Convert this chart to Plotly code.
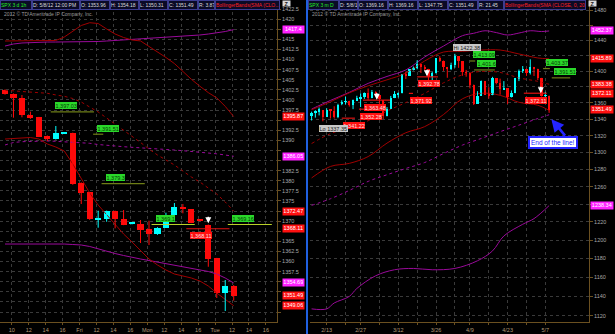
import math
import plotly.graph_objects as go

W, H = 615, 334

# ---------------- Left panel: SPX 3 day / 1 hour ----------------
L_OPEN = [1402.45, 1401.5, 1400.55, 1396.34, 1395.7, 1391.07, 1390.25, 1391.8, 1391.88, 1379.51,
          1377.13, 1370.5, 1370.45, 1372.5, 1370.45, 1369.3, 1369.3, 1368.05, 1366.73, 1368.37,
          1371.51, 1373.42, 1372.92, 1370.1, 1369.16, 1360.79, 1352.13, 1353.96]
L_HIGH = [1402.6, 1401.6, 1401.2, 1397.1, 1395.8, 1391.2, 1393.54, 1391.9, 1391.9, 1379.6,
          1377.2, 1372.58, 1372.6, 1372.6, 1372.75, 1369.5, 1370.27, 1370.1, 1368.5, 1372.08,
          1374.48, 1374.23, 1373.0, 1370.2, 1369.16, 1360.9, 1355.42, 1354.18]
L_LOW = [1401.3, 1395.6, 1395.7, 1395.3, 1390.8, 1389.83, 1390.2, 1391.7, 1379.0, 1374.23,
         1370.3, 1368.37, 1369.85, 1368.2, 1369.0, 1369.2, 1364.58, 1364.09, 1366.6, 1368.3,
         1371.4, 1371.93, 1369.5, 1369.9, 1358.7, 1350.97, 1347.75, 1350.31]
L_CLOSE = [1401.46, 1400.4, 1396.26, 1395.6, 1390.9, 1390.32, 1391.74, 1391.85, 1379.11, 1377.03,
           1370.45, 1370.6, 1372.5, 1370.45, 1369.11, 1369.4, 1367.8, 1366.73, 1368.37, 1370.7,
           1373.42, 1372.92, 1369.61, 1370.03, 1360.6, 1352.13, 1354.01, 1351.49]

L_RED_UP = [1414.58, 1414.58, 1414.58, 1414.58, 1414.58, 1414.58, 1414.71, 1415.57, 1417.06, 1418.42,
            1419.11, 1418.91, 1417.55, 1416.31, 1415.45, 1414.83, 1414.6, 1413.3, 1411.9, 1410.5,
            1409.0, 1407.0, 1405.1, 1403.4, 1401.8, 1400.5, 1398.4, 1395.87]
L_RED_MID = [1402.38, 1402.21, 1402.08, 1401.96, 1401.83, 1401.64, 1401.22, 1400.89, 1400.35, 1399.48,
             1398.24, 1397.01, 1395.52, 1394.04, 1392.55, 1390.94, 1389.46, 1387.85, 1386.36, 1385.13,
             1383.89, 1382.40, 1380.92, 1379.68, 1378.20, 1376.71, 1374.73, 1372.47]
L_RED_LOW = [1390.32, 1390.45, 1390.57, 1390.70, 1390.32, 1389.09, 1388.34, 1387.35, 1384.14, 1380.42,
             1376.96, 1373.99, 1371.51, 1369.04, 1366.81, 1364.83, 1362.85, 1360.62, 1359.14, 1357.90,
             1356.91, 1356.41, 1355.92, 1355.18, 1353.94, 1352.21, 1350.72, 1349.06]
L_MAG_UP = [1413.34, 1413.84, 1414.09, 1414.21, 1414.33, 1414.33, 1414.33, 1414.33, 1414.33, 1414.33,
            1414.33, 1414.46, 1414.58, 1414.71, 1414.83, 1414.95, 1415.08, 1415.20, 1415.32, 1415.45,
            1415.57, 1415.70, 1415.82, 1416.07, 1416.31, 1416.56, 1416.93, 1417.4]
L_MAG_MID = [1388.84, 1389.46, 1389.66, 1389.75, 1389.83, 1389.83, 1389.75, 1389.66, 1389.58, 1389.46,
             1389.26, 1388.96, 1388.72, 1388.59, 1388.42, 1388.27, 1388.17, 1388.02, 1387.92, 1387.77,
             1387.60, 1387.43, 1387.28, 1387.11, 1386.91, 1386.66, 1386.36, 1386.05]
L_MAG_LOW = [1364.33, 1364.33, 1364.46, 1364.51, 1364.51, 1364.51, 1364.46, 1364.33, 1364.21, 1364.09,
             1363.72, 1363.10, 1362.48, 1361.98, 1361.49, 1360.99, 1360.62, 1360.25, 1359.88, 1359.51,
             1359.14, 1358.76, 1358.39, 1358.02, 1357.53, 1356.91, 1355.92, 1354.69]

L_TICK_TEXT = ["10", "12", "14", "16", "Fri", "12", "14", "16", "Mon", "12", "14", "16", "Tue", "12", "14", "16"]

# green level lines: text, price, first bar, last bar, line colour key
L_GREEN = [("1,397.03", 1397.03, 5.4, 10.5, "olive"),
           ("1,391.51", 1391.51, 10.4, 11.6, "olive"),
           ("1,379.3", 1379.3, 11.4, 16.5, "olive"),
           ("1,369.1", 1369.16, 17.3, 22.4, "lime"),
           ("1,369.16", 1369.16, 26.3, 31.5, "lime")]
L_RED_LEVELS = [("1,368.11", 1368.11, 21.4, 26.5)]
L_AXIS_TAGS = [(1417.4, "mag"), (1395.87, "red"), (1386.05, "mag"), (1372.47, "red"),
               (1368.11, "red"), (1354.69, "mag"), (1351.49, "red"), (1349.06, "red")]

# ---------------- Right panel: SPX 3 month / daily ----------------
R_DATES = ["2/7", "2/8", "2/9", "2/10", "2/13", "2/14", "2/15", "2/16", "2/17", "2/21", "2/22", "2/23", "2/24",
           "2/27", "2/28", "2/29",
           "3/1", "3/2", "3/5", "3/6", "3/7", "3/8", "3/9", "3/12", "3/13", "3/14", "3/15", "3/16", "3/19", "3/20",
           "3/21", "3/22", "3/23", "3/26", "3/27", "3/28", "3/29", "3/30",
           "4/2", "4/3", "4/4", "4/5", "4/9", "4/10", "4/11", "4/12", "4/13", "4/16", "4/17", "4/18", "4/19", "4/20",
           "4/23", "4/24", "4/25", "4/26", "4/27", "4/30",
           "5/1", "5/2", "5/3", "5/4", "5/7", "5/8"]
R_OPEN = [1344.3, 1347.0, 1350.0, 1351.2, 1343.1, 1351.3, 1350.5, 1342.6, 1358.1, 1361.2, 1362.1, 1357.5, 1363.5,
          1365.2, 1367.6, 1372.2,
          1365.9, 1374.1, 1369.6, 1363.6, 1343.4, 1352.7, 1366.0, 1370.8, 1371.9, 1395.9, 1394.2, 1402.6, 1404.2,
          1409.6, 1405.5, 1403.0, 1392.8, 1397.1, 1416.6, 1412.5, 1405.4, 1403.3,
          1408.5, 1419.0, 1413.1, 1398.8, 1397.5, 1382.2, 1359.0, 1368.8, 1387.6, 1370.3, 1369.6, 1390.8, 1385.1,
          1377.0, 1378.5, 1367.0, 1372.1, 1390.6, 1400.2, 1403.3,
          1397.9, 1405.5, 1402.3, 1391.5, 1368.8, 1369.16]
R_HIGH = [1349.2, 1351.0, 1354.3, 1351.2, 1353.4, 1351.3, 1355.9, 1359.0, 1363.4, 1367.8, 1362.7, 1364.2, 1368.9,
          1371.9, 1373.1, 1378.0,
          1376.2, 1374.5, 1369.6, 1363.6, 1354.9, 1368.7, 1374.8, 1373.0, 1396.1, 1399.4, 1402.6, 1405.9, 1414.0,
          1409.6, 1407.8, 1403.0, 1399.2, 1416.6, 1419.2, 1413.7, 1405.4, 1410.9,
          1422.38, 1419.0, 1413.1, 1401.6, 1397.5, 1383.0, 1374.7, 1388.1, 1387.6, 1379.7, 1392.8, 1390.8, 1390.5,
          1387.4, 1378.5, 1375.6, 1391.4, 1402.1, 1406.6, 1403.3,
          1415.3, 1405.5, 1403.1, 1391.5, 1373.9, 1369.16]
R_LOW = [1338.4, 1341.9, 1344.6, 1337.35, 1343.1, 1340.8, 1340.8, 1341.2, 1357.2, 1358.1, 1355.5, 1352.3, 1363.5,
         1354.9, 1365.0, 1363.8,
         1365.9, 1368.4, 1359.1, 1340.0, 1343.4, 1352.7, 1366.0, 1366.7, 1371.9, 1390.0, 1394.2, 1401.0, 1402.4,
         1397.7, 1400.6, 1388.7, 1386.9, 1397.1, 1411.9, 1400.5, 1391.6, 1401.4,
         1404.5, 1404.3, 1394.1, 1392.9, 1378.2, 1357.4, 1359.0, 1368.8, 1369.9, 1365.4, 1369.6, 1383.3, 1370.3,
         1377.0, 1358.8, 1366.8, 1372.1, 1387.4, 1397.7, 1394.0,
         1395.7, 1393.9, 1388.7, 1367.96, 1363.9, 1347.75]
R_CLOSE = [1347.1, 1350.0, 1351.9, 1342.6, 1351.8, 1350.5, 1343.2, 1358.0, 1361.2, 1362.2, 1357.7, 1363.5, 1365.7,
           1367.6, 1372.2, 1365.7,
           1374.1, 1369.6, 1364.3, 1343.4, 1352.6, 1365.9, 1370.9, 1371.1, 1396.0, 1394.3, 1402.6, 1404.2, 1409.8,
           1405.5, 1402.9, 1392.8, 1397.1, 1416.5, 1412.5, 1405.5, 1403.3, 1408.5,
           1419.0, 1413.4, 1399.0, 1398.1, 1382.2, 1358.6, 1368.7, 1387.6, 1370.3, 1369.6, 1390.8, 1385.1, 1376.9,
           1378.5, 1366.9, 1372.0, 1390.7, 1400.0, 1403.4, 1397.9,
           1405.8, 1402.3, 1391.6, 1369.1, 1369.6, 1351.49]

R_BAND_DATES = ["2/7", "2/14", "2/22", "2/29", "3/7", "3/14", "3/21", "3/28", "4/4", "4/12", "4/19", "4/26", "5/3", "5/8"]
R_RED_UP = [1351.6, 1361.4, 1372.6, 1381.4, 1389.0, 1397.5, 1413.1, 1424.7, 1425.5, 1427.3, 1427.3, 1422.2, 1417.0, 1415.89]
R_RED_MID = [1310.5, 1322.4, 1329.6, 1338.1, 1350.0, 1360.5, 1372.0, 1385.2, 1395.3, 1399.7, 1398.4, 1391.5, 1387.1, 1383.38]
R_RED_LOW = [1270.0, 1283.4, 1287.0, 1295.0, 1311.0, 1323.5, 1330.9, 1345.7, 1365.1, 1372.1, 1369.5, 1360.8, 1357.2, 1350.87]
R_MAG_MID = [1238.6, 1246.1, 1255.6, 1266.0, 1273.7, 1281.0, 1288.0, 1298.6, 1308.6, 1316.6, 1324.8, 1332.7, 1340.8, 1345.4]
R_MAG_UP_DATES = ["2/7", "2/14", "2/22", "2/29", "3/7", "3/14", "3/21", "3/28", "4/4", "4/10", "4/13", "4/18",
                  "4/23", "4/26", "5/1", "5/4", "5/8"]
R_MAG_UP = [1352.4, 1363.1, 1373.2, 1384.5, 1393.3, 1401.6, 1418.3, 1432.5, 1446.1, 1449.3, 1452.6, 1450.2,
            1447.0, 1449.6, 1452.6, 1451.6, 1452.37]
R_MAG_LOW_DATES = ["2/7", "2/13", "2/15", "2/22", "2/24", "3/2", "3/9", "3/16", "3/23", "4/2", "4/11", "4/17",
                   "4/20", "4/27", "5/2", "5/8"]
R_MAG_LOW = [1126.9, 1126.9, 1133.0, 1139.8, 1148.1, 1161.5, 1167.9, 1169.3, 1167.9, 1169.3, 1177.5, 1188.2,
             1204.5, 1217.4, 1223.7, 1238.34]

R_TICK_DATES = ["2/13", "2/21", "2/27", "3/5", "3/12", "3/19", "3/26", "4/2", "4/9", "4/16", "4/23", "4/30", "5/7"]
R_TICK_LABELED = ["2/13", "2/27", "3/12", "3/26", "4/9", "4/23", "5/7"]

R_GREEN = [("1,413.09", 1413.09, 42.0, 43.4), ("1,401.6", 1401.6, 43.1, 48.6),
           ("1,403.37", 1403.37, 61.4, 63.2), ("1,391.51", 1391.51, 63.7, 68.6)]
R_RED_LEVELS = [("1,392.78", 1392.78, 28.0, 33.5), ("1,371.92", 1371.92, 25.8, 26.9),
                ("1,363.48", 1363.48, 13.6, 20.8), ("1,352.28", 1352.28, 12.6, 15.5),
                ("1,341.22", 1341.22, 8.0, 11.5), ("1,372.11", 1372.11, 56.3, 62.4)]
R_AXIS_TAGS = [(1452.37, "mag"), (1415.89, "red"), (1383.38, "red"), (1372.11, "red"),
               (1351.49, "red"), (1238.34, "mag")]

HEAD_L = [("SPX 3 d 1h", 0, 32, "g"), ("D: 5/8/12 12:00 PM", 32, 80, "w"), ("O: 1353.96", 80, 110, "w"),
          ("H: 1354.18", 110, 139, "w"), ("L: 1350.31", 139, 168, "w"), ("C: 1351.49", 168, 198, "w"),
          ("R: 3.87", 198, 215, "w"), ("BollingerBands(SMA (CLO...", 215, 280, "r")]
HEAD_R = [("SPX 3 m D", 308, 339, "g"), ("D: 5/8/12", 339, 358, "w"), ("O: 1369.16", 358, 388, "w"),
          ("H: 1369.16", 388, 418, "w"), ("L: 1347.75", 418, 448, "w"), ("C: 1351.49", 448, 478, "w"),
          ("R: 21.45", 478, 504, "w"), ("BollingerBands(SMA (CLOSE, 0, 20, ...", 504, 586, "r")]

# ---------------- styles ----------------
RED = "#ff0a0a"
CYAN = "#00ffff"
DKRED = "#a00000"
MAG = "#9a0a9a"
GRID = "#3a3a3a"
AXIS = "#6b5020"
XLAB = "#b09a78"
YLAB = "#a8a8a8"
FONT = "Liberation Sans, Arial, sans-serif"
TAGCOL = {"mag": "#ff22ff", "red": "#ff1010"}
HEADCOL = {"g": "#22ee22", "w": "#dcdcdc", "r": "#ff2020"}
LINECOL = {"olive": "#6e7e16", "lime": "#b8d028"}

fig = go.Figure()
R_X = list(range(len(R_DATES)))
pos = {d: i for i, d in enumerate(R_DATES)}
L_X = list(range(len(L_OPEN)))

# pixel scales of the two price axes (used only to hide tick labels covered by price tags)
L_PX_PER_PT = 322 / (1424.73 - 1345.03)
R_PX_PER_LN = 322 / math.log(1494.0 / 1113.5)


def add_candles(xs, o, h, l, c, xa, ya, width, min_body):
    for up, color in ((True, CYAN), (False, RED)):
        ks = [k for k in range(len(xs)) if (c[k] > o[k]) == up]
        wx, wy = [], []
        for k in ks:
            wx += [xs[k], xs[k], None]
            wy += [l[k], h[k], None]
        fig.add_trace(go.Scatter(x=wx, y=wy, mode="lines", line=dict(color=color, width=1),
                                 xaxis=xa, yaxis=ya, hoverinfo="skip"))
    for up, color in ((True, CYAN), (False, RED)):
        ks = [k for k in range(len(xs)) if (c[k] > o[k]) == up]
        fig.add_trace(go.Bar(x=[xs[k] for k in ks],
                             y=[max(abs(c[k] - o[k]), min_body) for k in ks],
                             base=[min(o[k], c[k]) for k in ks],
                             width=width, marker=dict(color=color, line=dict(width=0)),
                             xaxis=xa, yaxis=ya, hoverinfo="skip"))


def band(xs, ys, color, xa, ya, dash=None, shape="linear"):
    fig.add_trace(go.Scatter(x=xs, y=ys, mode="lines",
                             line=dict(color=color, width=1, dash=dash, shape=shape),
                             xaxis=xa, yaxis=ya, hoverinfo="skip"))


# left bands
band(L_X, L_MAG_UP, MAG, "x", "y")
band(L_X, L_MAG_MID, MAG, "x", "y", dash="3px,3px")
band(L_X, L_MAG_LOW, MAG, "x", "y")
band(L_X, L_RED_UP, DKRED, "x", "y")
band(L_X, L_RED_MID, DKRED, "x", "y", dash="3px,3px")
band(L_X, L_RED_LOW, DKRED, "x", "y")

# right bands
band([pos[d] for d in R_MAG_UP_DATES], R_MAG_UP, MAG, "x2", "y2", shape="spline")
band([pos[d] for d in R_BAND_DATES], R_MAG_MID, MAG, "x2", "y2", dash="3px,3px", shape="spline")
band([pos[d] for d in R_MAG_LOW_DATES], R_MAG_LOW, MAG, "x2", "y2", shape="spline")
band([pos[d] for d in R_BAND_DATES], R_RED_UP, DKRED, "x2", "y2", shape="spline")
band([pos[d] for d in R_BAND_DATES], R_RED_MID, DKRED, "x2", "y2", dash="3px,3px", shape="spline")
band([pos[d] for d in R_BAND_DATES], R_RED_LOW, DKRED, "x2", "y2", shape="spline")

add_candles(L_X, L_OPEN, L_HIGH, L_LOW, L_CLOSE, "x", "y", 0.72, 0.3)
add_candles(R_X, R_OPEN, R_HIGH, R_LOW, R_CLOSE, "x2", "y2", 0.62, 0.8)


def level_line(x0, x1, v, color, xa, ya, w=1.2):
    fig.add_trace(go.Scatter(x=[x0, x1], y=[v, v], mode="lines", line=dict(color=color, width=w),
                             xaxis=xa, yaxis=ya, hoverinfo="skip"))


def callout(text, x, v, xref, yref, bg, fc, above, shift=3, log=False):
    fig.add_annotation(x=x, y=math.log10(v) if log else v, xref=xref, yref=yref, xanchor="left",
                       yanchor="bottom" if above else "top", yshift=shift if above else -shift,
                       text=text, showarrow=False, bgcolor=bg, bordercolor=bg, borderwidth=0,
                       borderpad=0.5, font=dict(size=5.5, color=fc, family=FONT))


for text, v, a, b, ck in L_GREEN:
    level_line(a, b, v, LINECOL[ck], "x", "y")
    callout(text, a + 0.5, v, "x", "y", "#2ad82a", "#063806", True, 2.5)
for text, v, a, b in L_RED_LEVELS:
    level_line(a, b, v, "#e01010", "x", "y")
    callout(text, a + 0.4, v, "x", "y", "#ff1010", "#ffe0e0", False, 3)

for text, v, a, b in R_GREEN:
    level_line(a, b, v, LINECOL["olive"], "x2", "y2")
    callout(text, a + 0.7, v, "x2", "y2", "#2ad82a", "#063806", True, 2.5, log=True)
for text, v, a, b in R_RED_LEVELS:
    level_line(a, b, v, "#e01010", "x2", "y2")
    callout(text, a + 0.3, v, "x2", "y2", "#ff1010", "#ffe0e0", False, 3.5, log=True)

# high / low bubbles
hi_i = max(range(len(R_HIGH)), key=lambda k: R_HIGH[k])
lo_i = min(range(len(R_LOW)), key=lambda k: R_LOW[k])
callout("Hi 1422.38", hi_i - 0.5, R_HIGH[hi_i], "x2", "y2", "#c8c8c8", "#202020", True, 3, log=True)
callout("Lo 1337.35", lo_i - 1.0, R_LOW[lo_i], "x2", "y2", "#c8c8c8", "#202020", False, 4, log=True)

# white arrows
for x, v, xr, yr, lg in [(24, 1369.5, "x", "y", False), (17.3, 1364.0, "x2", "y2", True),
                         (30.6, 1393.5, "x2", "y2", True), (60.8, 1372.2, "x2", "y2", True)]:
    fig.add_annotation(x=x, y=math.log10(v) if lg else v, xref=xr, yref=yr, text="", showarrow=True,
                       ax=0, ay=-8, arrowhead=2, arrowsize=0.8, arrowwidth=1.5, arrowcolor="white")

# axis price tags
for v, k in L_AXIS_TAGS:
    fig.add_annotation(x=282 / W, xref="paper", xanchor="left", y=v, yref="y", yanchor="middle",
                       text=str(v), showarrow=False, bgcolor=TAGCOL[k], borderpad=0.3, width=20,
                       font=dict(size=5.5, color="white", family=FONT))
for v, k in R_AXIS_TAGS:
    fig.add_annotation(x=590 / W, xref="paper", xanchor="left", y=math.log10(v), yref="y2",
                       yanchor="middle", text=str(v), showarrow=False, bgcolor=TAGCOL[k], borderpad=0.3,
                       width=21, font=dict(size=5.5, color="white", family=FONT))

# End of the line callout
fig.add_annotation(x=63.6, y=math.log10(1340.0), xref="x2", yref="y2", text="", showarrow=True,
                   ax=15, ay=18, arrowhead=2, arrowsize=1, arrowwidth=2.5, arrowcolor="#2424ff")
fig.add_annotation(x=552.5 / W, y=1 - 142.5 / H, xref="paper", yref="paper", xanchor="center",
                   yanchor="middle", text="End of the line!",
                   showarrow=False, bgcolor="white", bordercolor="#2424ff", borderwidth=2, borderpad=1,
                   font=dict(size=6.5, color="#1818ff", family=FONT))

# header bars
for items in (HEAD_L, HEAD_R):
    for text, a, b, ck in items:
        fig.add_annotation(x=a / W, y=1, xref="paper", yref="paper", xanchor="left", yanchor="top",
                           text=text, showarrow=False, width=b - a - 2, height=8, align="left",
                           bgcolor="#0a0a26", bordercolor="#3c3c90", borderwidth=1, borderpad=0,
                           font=dict(size=5, color=HEADCOL[ck], family=FONT))
for a in (282, 588):
    fig.add_annotation(x=a / W, y=1, xref="paper", yref="paper", xanchor="left", yanchor="top",
                       text="<b>Z</b>", showarrow=False, width=7, height=5, bgcolor="#d8d8d8",
                       borderpad=0, font=dict(size=5.5, color="#202020", family=FONT))
for a in (2, 310):
    fig.add_annotation(x=a / W, y=1 - 13.5 / H, xref="paper", yref="paper", xanchor="left",
                       yanchor="middle", text="2012 © TD Ameritrade IP Company, Inc.", showarrow=False,
                       font=dict(size=5, color="#9a9a9a", family=FONT))

fig.add_shape(type="line", xref="paper", yref="paper", x0=307 / W, x1=307 / W, y0=0, y1=1,
              line=dict(color="#2060e0", width=2))

l_ticks = [0.8 + 2 * k for k in range(len(L_TICK_TEXT))]
l_yt = [1347.5 + 2.5 * k for k in range(31)]
r_yt = list(range(1100, 1481, 20))
r_tv = [pos[d] for d in R_TICK_DATES]
r_tt = [d if d in R_TICK_LABELED else "" for d in R_TICK_DATES]

# tick labels that sit under a price tag are hidden (as they are covered in the original)
l_ytt = [("" if any(abs(v - t) * L_PX_PER_PT < 6.5 for t, _ in L_AXIS_TAGS) else f"{v:g}") for v in l_yt]
r_ytt = [("" if any(abs(math.log(v / t)) * R_PX_PER_LN < 6.5 for t, _ in R_AXIS_TAGS) else str(v)) for v in r_yt]

common_x = dict(showgrid=True, gridcolor=GRID, griddash="dot", gridwidth=1, zeroline=False, showline=True,
                linecolor=AXIS, linewidth=1, ticks="outside", ticklen=2, tickcolor=AXIS,
                tickfont=dict(size=5.5, color=XLAB, family=FONT), fixedrange=True)
common_y = dict(showgrid=True, gridcolor=GRID, griddash="dot", gridwidth=1, zeroline=False, showline=True,
                linecolor=AXIS, linewidth=1, ticks="outside", ticklen=3, tickcolor=AXIS, side="right",
                tickfont=dict(size=5.5, color=YLAB, family=FONT), fixedrange=True)

fig.update_layout(
    width=W, height=H, margin=dict(l=0, r=0, t=0, b=0),
    paper_bgcolor="black", plot_bgcolor="black", showlegend=False,
    barmode="overlay", bargap=0,
    font=dict(family=FONT, size=5.5, color=YLAB),
    xaxis=dict(domain=[0, 277 / W], range=[-0.59, 32.11], anchor="y", tickmode="array",
               tickvals=l_ticks, ticktext=L_TICK_TEXT, **common_x),
    yaxis=dict(domain=[12 / H, 1], range=[1345.03, 1424.73], anchor="x", tickmode="array",
               tickvals=l_yt, ticktext=l_ytt, **common_y),
    xaxis2=dict(domain=[310 / W, 589 / W], range=[-0.42, 73.58], anchor="y2", tickmode="array",
                tickvals=r_tv, ticktext=r_tt, **common_x),
    yaxis2=dict(domain=[12 / H, 1], type="log", range=[math.log10(1113.5), math.log10(1494.0)],
                anchor="x2", tickmode="array", tickvals=r_yt, ticktext=r_ytt, **common_y),
)

fig.write_html("out.html")
